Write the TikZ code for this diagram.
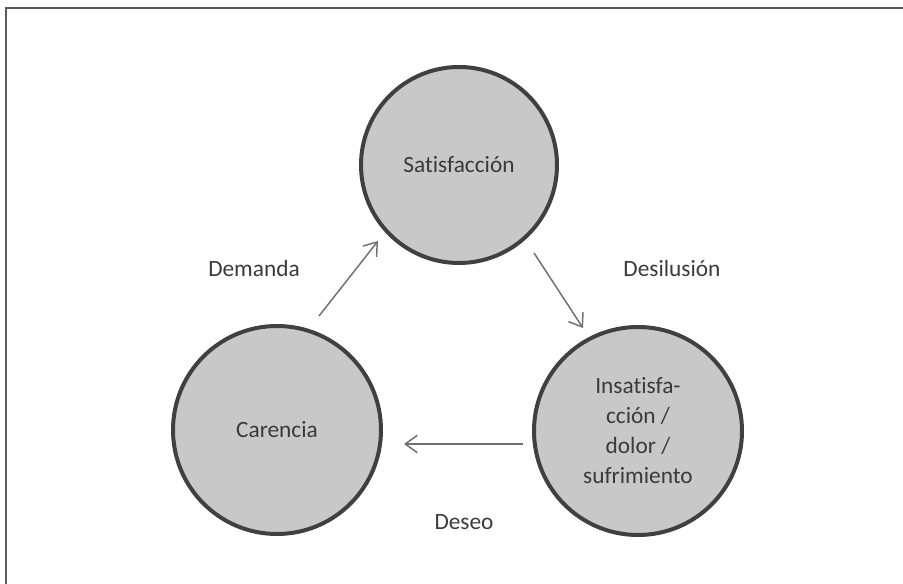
\documentclass[tikz,border=0pt]{standalone}
\usepackage{fontspec}
\setmainfont{Carlito}[Ligatures={NoCommon}]
\usepackage{tikz}
\usetikzlibrary{arrows.meta}
\definecolor{relleno}{HTML}{C8C8C8}
\definecolor{borde}{HTML}{404040}
\definecolor{texto}{HTML}{3A3A3A}
\definecolor{linea}{HTML}{707070}
\tikzset{%
  flecha/.style = {-{Straight Barb[length=9pt,width=13pt]},draw=linea,line width=1.1pt},
  circ/.style = {circle,draw=borde,fill=relleno,line width=3pt,text=texto,
        font=\fontsize{17.5}{22.5}\selectfont,align=center},
  etiq/.style = {text=texto,font=\fontsize{17.5}{22.5}\selectfont}
}
\begin{document}
\begin{tikzpicture}[x=0.75pt,y=-0.75pt]
\useasboundingbox (0,0) rectangle (903,584);
\draw[line width=1.5pt,draw=black!65] (6,584) -- (6,8) -- (903,8);
\node[circ,minimum size=147pt] (satisf) at (459,165) {Satisfacción};
\node[circ,minimum size=156pt] (carencia) at (277,430) {Carencia};
\node[circ,minimum size=156pt] (insatisf) at (638,431) {Insatisfa-\\cción /\\dolor /\\sufrimiento};
\node[etiq] (demanda) at (254,268) {Demanda};
\node[etiq] (desilusion) at (672,268) {Desilusión};
\node[etiq] (deseo) at (464,522) {Deseo};
\coordinate (d1) at (319,316);
\coordinate (d2) at (378,241);
\coordinate (s1) at (534,253);
\coordinate (s2) at (583,328);
\coordinate (e1) at (523,444);
\coordinate (e2) at (404,444);
\draw[flecha] (d1) -- (d2);
\draw[flecha] (s1) -- (s2);
\draw[flecha] (e1) -- (e2);
\end{tikzpicture}
\end{document}
